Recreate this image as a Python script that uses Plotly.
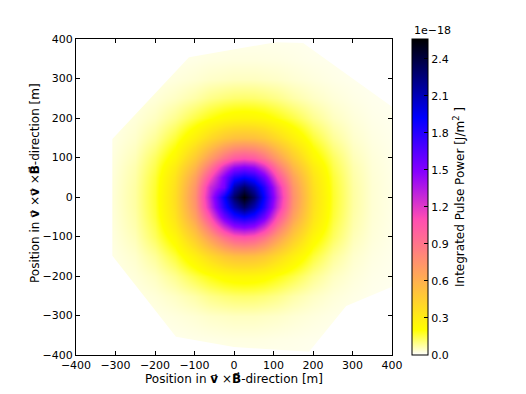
import plotly.graph_objects as go
import numpy as np

# Grid coordinates (m)
x_pos = [-400, -305, -250, -200, -150, -100, -60, -25, 0, 25, 50, 75, 110, 150, 200, 250, 300, 350, 400]
y_pos = [-400, -360, -300, -250, -200, -150, -100, -75, -50, -25, 0, 25, 50, 75, 100, 150, 200, 250, 300, 350, 400]

# Integrated pulse power in units of 1e-18 J/m^2 (rows follow y_pos, columns follow x_pos)
power = [
    [0.008, 0.01, 0.011, 0.013, 0.013, 0.015, 0.015, 0.016, 0.016, 0.016, 0.016, 0.016, 0.015, 0.015, 0.013, 0.013, 0.011, 0.01, 0.009],
    [0.009, 0.011, 0.012, 0.014, 0.016, 0.019, 0.021, 0.023, 0.024, 0.024, 0.024, 0.023, 0.021, 0.019, 0.016, 0.014, 0.012, 0.011, 0.01],
    [0.01, 0.012, 0.015, 0.02, 0.027, 0.035, 0.043, 0.047, 0.05, 0.05, 0.05, 0.047, 0.043, 0.035, 0.027, 0.02, 0.015, 0.012, 0.011],
    [0.01, 0.015, 0.021, 0.031, 0.047, 0.07, 0.095, 0.11, 0.118, 0.12, 0.118, 0.11, 0.095, 0.07, 0.047, 0.031, 0.021, 0.015, 0.012],
    [0.011, 0.019, 0.03, 0.05, 0.09, 0.15, 0.195, 0.23, 0.245, 0.25, 0.245, 0.23, 0.195, 0.15, 0.09, 0.05, 0.03, 0.019, 0.014],
    [0.012, 0.023, 0.041, 0.083, 0.16, 0.28, 0.39, 0.48, 0.52, 0.53, 0.52, 0.48, 0.39, 0.28, 0.16, 0.083, 0.041, 0.024, 0.016],
    [0.013, 0.028, 0.057, 0.13, 0.245, 0.47, 0.70, 0.91, 1.03, 1.07, 1.03, 0.91, 0.70, 0.47, 0.245, 0.13, 0.057, 0.03, 0.018],
    [0.013, 0.03, 0.065, 0.145, 0.30, 0.57, 0.89, 1.24, 1.44, 1.50, 1.44, 1.24, 0.89, 0.57, 0.30, 0.145, 0.065, 0.032, 0.019],
    [0.014, 0.032, 0.07, 0.16, 0.34, 0.67, 1.09, 1.57, 1.81, 1.90, 1.81, 1.57, 1.09, 0.67, 0.34, 0.16, 0.07, 0.034, 0.0196],
    [0.014, 0.033, 0.074, 0.167, 0.36, 0.735, 1.27, 1.81, 2.11, 2.30, 2.11, 1.81, 1.27, 0.735, 0.36, 0.167, 0.074, 0.035, 0.02],
    [0.014, 0.034, 0.075, 0.17, 0.37, 0.76, 1.33, 1.90, 2.30, 2.55, 2.30, 1.90, 1.33, 0.76, 0.37, 0.17, 0.075, 0.035, 0.02],
    [0.014, 0.033, 0.074, 0.167, 0.36, 0.735, 1.27, 1.55, 2.11, 2.30, 2.11, 1.81, 1.27, 0.735, 0.36, 0.167, 0.074, 0.035, 0.02],
    [0.014, 0.032, 0.07, 0.16, 0.34, 0.67, 1.09, 1.50, 1.81, 1.90, 1.81, 1.57, 1.09, 0.67, 0.34, 0.16, 0.07, 0.034, 0.0196],
    [0.013, 0.03, 0.065, 0.145, 0.30, 0.57, 0.89, 1.24, 1.44, 1.50, 1.44, 1.24, 0.89, 0.57, 0.30, 0.145, 0.065, 0.032, 0.019],
    [0.013, 0.028, 0.057, 0.13, 0.245, 0.47, 0.70, 0.91, 1.03, 1.07, 1.03, 0.91, 0.70, 0.47, 0.245, 0.13, 0.057, 0.03, 0.018],
    [0.012, 0.023, 0.041, 0.083, 0.16, 0.28, 0.39, 0.48, 0.52, 0.53, 0.52, 0.48, 0.39, 0.28, 0.16, 0.083, 0.041, 0.024, 0.016],
    [0.011, 0.019, 0.03, 0.05, 0.09, 0.15, 0.195, 0.23, 0.245, 0.25, 0.245, 0.23, 0.195, 0.15, 0.09, 0.05, 0.03, 0.019, 0.014],
    [0.01, 0.015, 0.021, 0.031, 0.047, 0.07, 0.095, 0.11, 0.118, 0.12, 0.118, 0.11, 0.095, 0.07, 0.047, 0.031, 0.021, 0.015, 0.012],
    [0.01, 0.012, 0.015, 0.02, 0.027, 0.035, 0.043, 0.047, 0.05, 0.05, 0.05, 0.047, 0.043, 0.035, 0.027, 0.02, 0.015, 0.012, 0.011],
    [0.009, 0.011, 0.012, 0.015, 0.017, 0.021, 0.024, 0.025, 0.026, 0.026, 0.026, 0.025, 0.024, 0.021, 0.017, 0.015, 0.012, 0.011, 0.01],
    [0.008, 0.01, 0.011, 0.013, 0.013, 0.015, 0.015, 0.016, 0.016, 0.016, 0.016, 0.016, 0.015, 0.015, 0.013, 0.013, 0.011, 0.01, 0.009],
]

# Outline of the simulated footprint (antenna array hull), m
hull_x = [-308, -114, 106, 175, 405, 405, 284, 190, 0, -147, -308]
hull_y = [147, 354, 392, 390, 225, -225, -276, -392, -380, -354, -149]

cbar_ticks = [0.0, 0.3, 0.6, 0.9, 1.2, 1.5, 1.8, 2.1, 2.4]
z_max = 2.56
axis_range = [-400, 400]


def gnuplot2(s):
    r = min(max(s / 0.32 - 0.78125, 0), 1)
    g = min(max(2 * s - 0.84, 0), 1)
    if s < 0.25:
        b = 4 * s
    elif s < 0.92:
        b = -2 * s + 1.84
    else:
        b = s / 0.08 - 11.5
    b = min(max(b, 0), 1)
    return "rgb(%d,%d,%d)" % (round(r * 255), round(g * 255), round(b * 255))


stops = sorted(set([round(float(t), 4) for t in np.linspace(0, 1, 101)] + [0.08, 0.58, 0.75]))
colorscale = [[t, gnuplot2(1 - t)] for t in stops]

# page body has an 8 px margin: figure is drawn at (8, 8)
PLOT_L, PLOT_T, PLOT_W, PLOT_H = 68, 31, 316, 316
FIG_W, FIG_H = 518, 386
FONT = "DejaVu Sans"

fig = go.Figure()
fig.add_trace(go.Heatmap(
    x=x_pos, y=y_pos, z=power,
    zsmooth="best",
    colorscale=colorscale, zmin=0, zmax=z_max,
    hoverinfo="skip",
    colorbar=dict(
        x=336 / PLOT_W, xanchor="left", xpad=0,
        y=0, yanchor="bottom", len=1, lenmode="fraction", ypad=0,
        thickness=16, thicknessmode="pixels",
        outlinecolor="black", outlinewidth=1,
        tickvals=cbar_ticks, tickformat=".1f",
        ticks="inside", ticklen=4, tickcolor="black",
        tickfont=dict(family=FONT, size=11, color="black"),
        title=dict(text="Integrated Pulse Power [J/m<sup>2</sup> ]", side="right",
                   font=dict(family=FONT, size=12, color="black")),
    ),
))

# white area outside the footprint outline (outer frame + hull as a hole)
lo, hi = axis_range[0] * 1.2, axis_range[1] * 1.2
frame_x = [lo, hi, hi, lo, lo]
frame_y = [lo, lo, hi, hi, lo]
fig.add_trace(go.Scatter(
    x=frame_x + [None] + hull_x + [hull_x[0]],
    y=frame_y + [None] + hull_y + [hull_y[0]],
    mode="lines", line=dict(width=0, color="white"),
    fill="toself", fillcolor="white",
    hoverinfo="skip", showlegend=False,
))

axis_common = dict(
    range=axis_range, dtick=100, tick0=0,
    showgrid=False, zeroline=False,
    showline=True, linecolor="black", linewidth=1, mirror="ticks",
    ticks="inside", ticklen=4, tickcolor="black",
    tickfont=dict(family=FONT, size=11, color="black"),
)

fig.update_layout(
    width=FIG_W, height=FIG_H,
    margin=dict(l=PLOT_L, r=FIG_W - PLOT_L - PLOT_W, t=PLOT_T, b=FIG_H - PLOT_T - PLOT_H, autoexpand=False),
    paper_bgcolor="white", plot_bgcolor="white",
    showlegend=False,
    xaxis=dict(axis_common,
               title=dict(text="Position in <b>v\u20d7</b> \u00d7<b>B\u20d7</b>-direction [m]", standoff=3,
                          font=dict(family=FONT, size=12, color="black"))),
    yaxis=dict(axis_common),
    annotations=[
        dict(text="1e\u221218", xref="paper", yref="paper",
             x=336 / PLOT_W, y=1, xanchor="left", yanchor="bottom", yshift=0,
             showarrow=False, font=dict(family=FONT, size=11, color="black")),
        dict(text="Position in <b>v\u20d7</b> \u00d7<b>v\u20d7</b> \u00d7<b>B\u20d7</b>-direction [m]",
             xref="paper", yref="paper", x=-41 / PLOT_W, y=172 / PLOT_H,
             xanchor="center", yanchor="middle", textangle=-90,
             showarrow=False, font=dict(family=FONT, size=12, color="black")),
    ],
)

fig.write_html("out.html")
